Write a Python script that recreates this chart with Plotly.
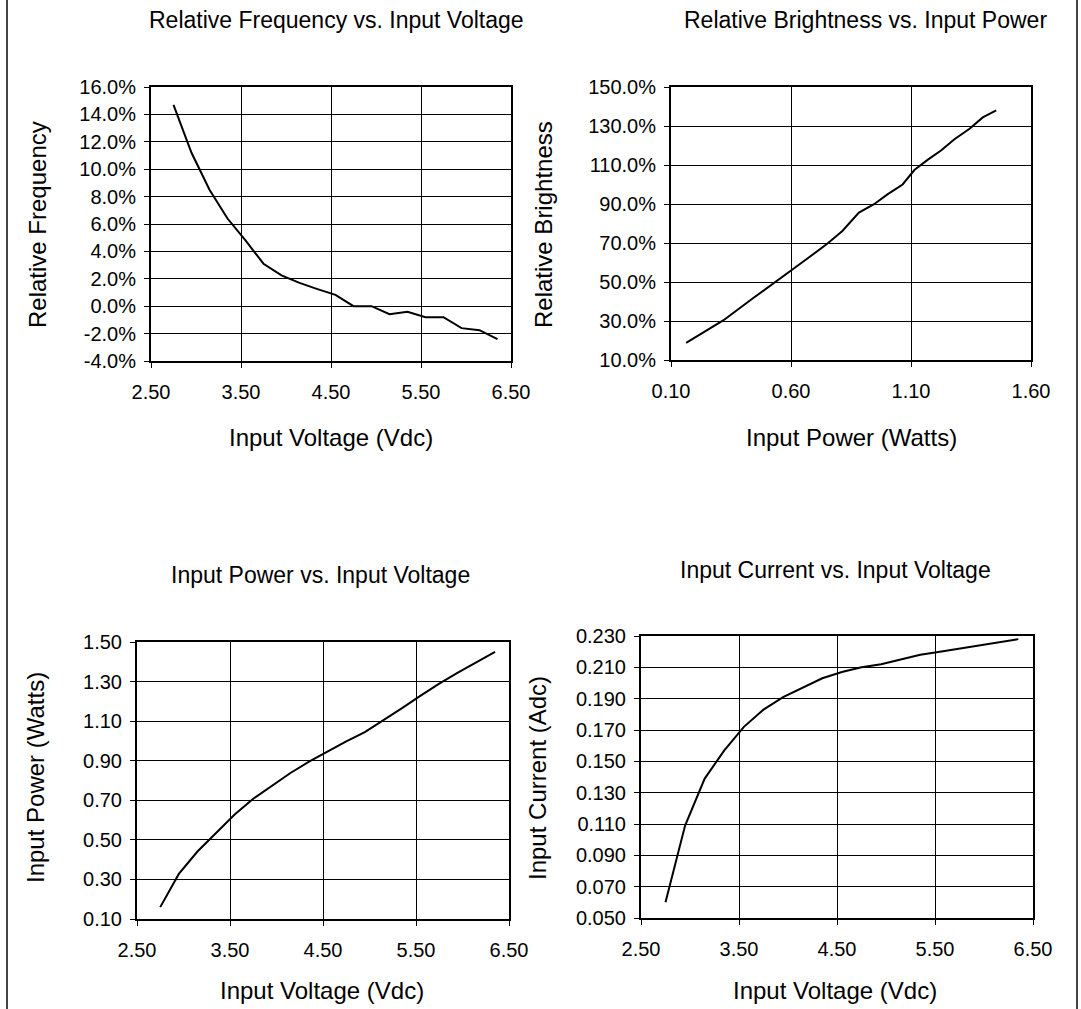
import plotly.graph_objects as go

# ---------------- data ----------------
voltage = [2.75, 2.95, 3.15, 3.35, 3.55, 3.75, 3.95, 4.15, 4.35, 4.55,
           4.75, 4.95, 5.15, 5.35, 5.55, 5.75, 5.95, 6.15, 6.35]

rel_frequency = [14.7, 11.2, 8.5, 6.4, 4.8, 3.1, 2.25, 1.7, 1.25, 0.83,
                 0.0, 0.0, -0.59, -0.4, -0.8, -0.8, -1.6, -1.75, -2.4]

brightness_power = [0.163, 0.319, 0.440, 0.527, 0.600, 0.667, 0.751, 0.814, 0.883, 0.946,
                    1.002, 1.065, 1.114, 1.169, 1.225, 1.281, 1.344, 1.399, 1.455]
rel_brightness = [18.8, 30.4, 41.5, 49.5, 56.2, 61.9, 69.6, 76.2, 85.6, 89.9,
                  94.9, 100.0, 107.4, 112.6, 117.4, 123.2, 128.6, 134.4, 138.0]

input_power = [0.160, 0.328, 0.441, 0.537, 0.628, 0.708, 0.774, 0.838, 0.895, 0.948,
               0.998, 1.045, 1.104, 1.166, 1.229, 1.290, 1.345, 1.398, 1.450]

input_current = [0.060, 0.109, 0.139, 0.157, 0.172, 0.183, 0.191, 0.197, 0.203, 0.207,
                 0.210, 0.212, 0.215, 0.218, 0.220, 0.222, 0.224, 0.226, 0.228]

# tick values / labels
volt_ticks = [2.5, 3.5, 4.5, 5.5, 6.5]
volt_labels = ["2.50", "3.50", "4.50", "5.50", "6.50"]
freq_ticks = [16, 14, 12, 10, 8, 6, 4, 2, 0, -2, -4]
freq_labels = ["16.0%", "14.0%", "12.0%", "10.0%", "8.0%", "6.0%", "4.0%",
               "2.0%", "0.0%", "-2.0%", "-4.0%"]
pow_ticks_x = [0.10, 0.60, 1.10, 1.60]
pow_labels_x = ["0.10", "0.60", "1.10", "1.60"]
bright_ticks = [150, 130, 110, 90, 70, 50, 30, 10]
bright_labels = ["150.0%", "130.0%", "110.0%", "90.0%", "70.0%", "50.0%", "30.0%", "10.0%"]
pow_ticks_y = [1.50, 1.30, 1.10, 0.90, 0.70, 0.50, 0.30, 0.10]
pow_labels_y = ["1.50", "1.30", "1.10", "0.90", "0.70", "0.50", "0.30", "0.10"]
cur_ticks = [0.230, 0.210, 0.190, 0.170, 0.150, 0.130, 0.110, 0.090, 0.070, 0.050]
cur_labels = ["0.230", "0.210", "0.190", "0.170", "0.150", "0.130", "0.110",
              "0.090", "0.070", "0.050"]

titles = ["Relative Frequency vs. Input Voltage", "Relative Brightness vs. Input Power",
          "Input Power vs. Input Voltage", "Input Current vs. Input Voltage"]
x_titles = ["Input Voltage (Vdc)", "Input Power (Watts)", "Input Voltage (Vdc)", "Input Voltage (Vdc)"]
y_titles = ["Relative Frequency", "Relative Brightness", "Input Power (Watts)", "Input Current (Adc)"]

# ---------------- figure ----------------
W, H = 1081, 1009
FONT = "Liberation Sans, Arial, sans-serif"
TICK_FS = 20
TITLE_FS = 23
AXT_FS = 24

fig = go.Figure()
line = dict(color="black", width=2)
fig.add_trace(go.Scatter(x=voltage, y=rel_frequency, mode="lines", line=line, xaxis="x", yaxis="y"))
fig.add_trace(go.Scatter(x=brightness_power, y=rel_brightness, mode="lines", line=line, xaxis="x2", yaxis="y2"))
fig.add_trace(go.Scatter(x=voltage, y=input_power, mode="lines", line=line, xaxis="x3", yaxis="y3"))
fig.add_trace(go.Scatter(x=voltage, y=input_current, mode="lines", line=line, xaxis="x4", yaxis="y4"))


def px_x(v):
    return v / W


def px_y(v):
    return 1 - v / H


# panel pixel boxes: (left, right, top, bottom)
boxes = [(151, 511, 87, 361), (671, 1031, 87, 360), (137, 509, 642, 919), (641, 1033, 636, 918)]
xranges = [[2.5, 6.5], [0.10, 1.60], [2.5, 6.5], [2.5, 6.5]]
yranges = [[-4, 16], [10, 150], [0.10, 1.50], [0.050, 0.230]]
xtv = [(volt_ticks, volt_labels), (pow_ticks_x, pow_labels_x), (volt_ticks, volt_labels), (volt_ticks, volt_labels)]
ytv = [(freq_ticks, freq_labels), (bright_ticks, bright_labels), (pow_ticks_y, pow_labels_y), (cur_ticks, cur_labels)]

axis_common = dict(showline=True, mirror=True, linecolor="black", linewidth=2,
                   showgrid=True, gridcolor="black", gridwidth=1, zeroline=False,
                   ticks="outside", ticklen=5, tickcolor="black", tickwidth=1,
                   automargin=False, fixedrange=True,
                   tickfont=dict(family=FONT, size=TICK_FS, color="black"))

layout = dict(width=W, height=H, autosize=False, margin=dict(l=0, r=0, t=0, b=0, pad=0),
              paper_bgcolor="white", plot_bgcolor="white", showlegend=False,
              font=dict(family=FONT, size=TICK_FS, color="black"))

for i, (l, r, t, b) in enumerate(boxes):
    s = "" if i == 0 else str(i + 1)
    layout["xaxis" + s] = dict(axis_common, domain=[px_x(l), px_x(r)], range=xranges[i],
                               tickvals=xtv[i][0], ticktext=xtv[i][1],
                               anchor="y" + s, ticklabelstandoff=7)
    layout["yaxis" + s] = dict(axis_common, domain=[px_y(b), px_y(t)], range=yranges[i],
                               tickvals=ytv[i][0], ticktext=ytv[i][1],
                               anchor="x" + s, ticklabelstandoff=4)

# annotation positions (pixels)
title_pos = [(336, 20), (865, 20), (320, 575), (835, 570)]
xtitle_pos = [(331, 437), (851, 437), (322, 990), (835, 990)]
ytitle_pos = [(37, 225), (543, 225), (35, 778), (537, 778)]
annotations = []
for i in range(4):
    annotations.append(dict(text=titles[i], x=px_x(title_pos[i][0]), y=px_y(title_pos[i][1]),
                            xref="paper", yref="paper", showarrow=False,
                            xanchor="center", yanchor="middle",
                            font=dict(family=FONT, size=TITLE_FS, color="black")))
    annotations.append(dict(text=x_titles[i], x=px_x(xtitle_pos[i][0]), y=px_y(xtitle_pos[i][1]),
                            xref="paper", yref="paper", showarrow=False,
                            xanchor="center", yanchor="middle",
                            font=dict(family=FONT, size=AXT_FS, color="black")))
    annotations.append(dict(text=y_titles[i], x=px_x(ytitle_pos[i][0]), y=px_y(ytitle_pos[i][1]),
                            xref="paper", yref="paper", showarrow=False, textangle=-90,
                            xanchor="center", yanchor="middle",
                            font=dict(family=FONT, size=AXT_FS, color="black")))
layout["annotations"] = annotations

# outer frame lines (left and right edges of the sheet)
layout["shapes"] = [
    dict(type="line", xref="paper", yref="paper", x0=px_x(7), x1=px_x(7), y0=0, y1=1,
         line=dict(color="#444", width=2)),
    dict(type="line", xref="paper", yref="paper", x0=px_x(1077), x1=px_x(1077), y0=0, y1=1,
         line=dict(color="#444", width=2)),
]

fig.update_layout(**layout)
# let the figure sit exactly in the window (no default page margin / scrollbars)
fig.write_html("out.html", config={"displayModeBar": False},
               post_script="document.body.style.margin='0';"
                           "document.documentElement.style.overflow='hidden';"
                           "document.body.style.overflow='hidden';")
